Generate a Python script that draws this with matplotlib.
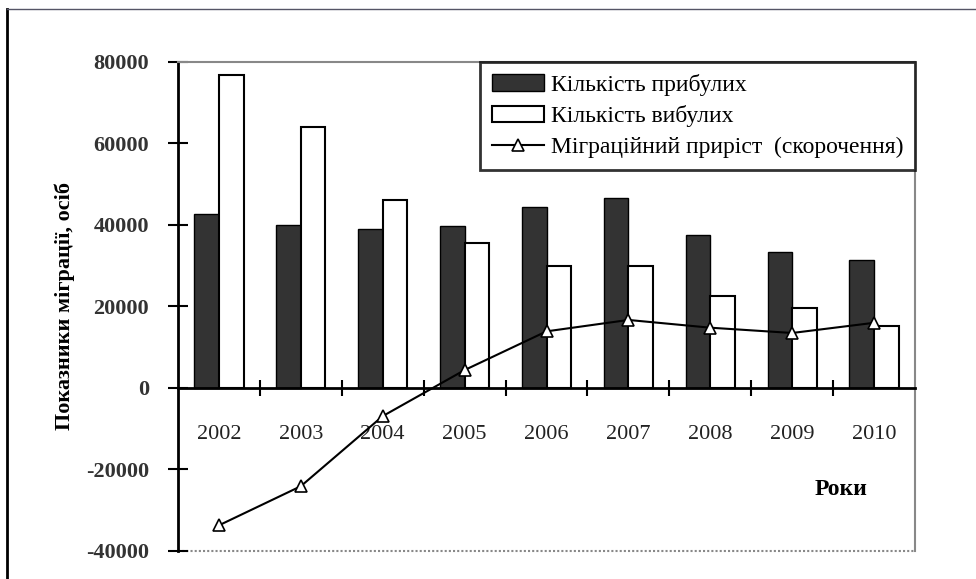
import numpy as np
import matplotlib
matplotlib.use("Agg")
import matplotlib.pyplot as plt
from matplotlib.lines import Line2D

# ── Data ────────────────────────────────────────────────
years    = ["2002", "2003", "2004", "2005", "2006", "2007", "2008", "2009", "2010"]
arrivals = [42800, 39900, 39100, 39700, 44300, 46700, 37600, 33300, 31300]
departed = [76800, 64000, 46200, 35700, 30000, 30000, 22600, 19700, 15100]
net_mig  = [-33700, -24100, -6900, 4400, 13900, 16700, 14800, 13500, 16000]

y_ticks  = [-40000, -20000, 0, 20000, 40000, 60000, 80000]

LBL_ARR = "Кількість прибулих"
LBL_DEP = "Кількість вибулих"
LBL_NET = "Міграційний приріст  (скорочення)"

plt.rcParams['font.family'] = ['Liberation Serif', 'DejaVu Serif']

# ── Figure ──────────────────────────────────────────────
fig = plt.figure(figsize=(9.76, 5.79), dpi=100)
ax = fig.add_axes([178/976, 1 - 551/579, (915 - 178)/976, (551 - 62)/579])

x = np.arange(len(years))
w = 0.3

b1 = ax.bar(x - w/2, arrivals, w, color="#333333", edgecolor="black",
            linewidth=1.0, label=LBL_ARR, zorder=2)
b2 = ax.bar(x + w/2, departed, w, color="white", edgecolor="black",
            linewidth=1.5, label=LBL_DEP, zorder=2)
ln, = ax.plot(x, net_mig, color="black", linewidth=1.5, marker="^",
              markersize=9, markerfacecolor="white", markeredgecolor="black",
              markeredgewidth=1.2, label=LBL_NET, zorder=4)

ax.set_xlim(-0.5, len(years) - 0.5)
ax.set_ylim(-40000, 80000)

# y axis
ax.set_yticks(y_ticks)
ax.set_yticklabels([str(v) for v in y_ticks], fontsize=16,
                   fontweight="bold", color="#333333")
ax.tick_params(axis="y", direction="inout", length=14, width=1.5, pad=14)
ax.set_ylabel("Показники міграції, осіб", fontsize=16, fontweight="bold",
              labelpad=8)

# x axis sits on zero; ticks between categories
ax.spines["bottom"].set_position(("data", 0))
ax.spines["bottom"].set_linewidth(2)
ax.spines["left"].set_linewidth(2)
ax.set_xticks(np.arange(0.5, len(years) - 0.5, 1.0))
ax.set_xticklabels([])
ax.tick_params(axis="x", which="major", direction="inout", length=12,
               width=1.5)
ax.set_xticks(x, minor=True)
ax.set_xticklabels(years, minor=True, fontsize=16, color="#222222")
ax.tick_params(axis="x", which="minor", length=0, pad=27)

# dotted gray frame on top / right / bottom
for s in ["top", "right"]:
    ax.spines[s].set_color("#888888")
    ax.spines[s].set_linestyle((0, (1, 1)))
    ax.spines[s].set_linewidth(1.5)
ax.axhline(-40000, color="#888888", linestyle=(0, (1, 1)), linewidth=1.5,
           clip_on=False, zorder=1)

ax.text(0.90, 0.125, "Роки", transform=ax.transAxes, fontsize=17,
        fontweight="bold", ha="center", va="center")

leg = ax.legend([b1, b2, ln], [LBL_ARR, LBL_DEP, LBL_NET],
                loc="upper right", bbox_to_anchor=(1.0, 1.0),
                borderaxespad=0, fontsize=17, frameon=True, fancybox=False,
                handlelength=2.2, handletextpad=0.3, labelspacing=0.4,
                borderpad=0.5)
leg.get_frame().set_edgecolor("black")
leg.get_frame().set_linewidth(2)

# outer picture border (left and top only)
fig.add_artist(Line2D([7/976, 7/976], [0, 1 - 9/579], color="black",
                      linewidth=2, transform=fig.transFigure))
fig.add_artist(Line2D([7/976, 1], [1 - 9/579, 1 - 9/579], color="#555566",
                      linewidth=1, transform=fig.transFigure))

plt.savefig("out.png", dpi=100)
